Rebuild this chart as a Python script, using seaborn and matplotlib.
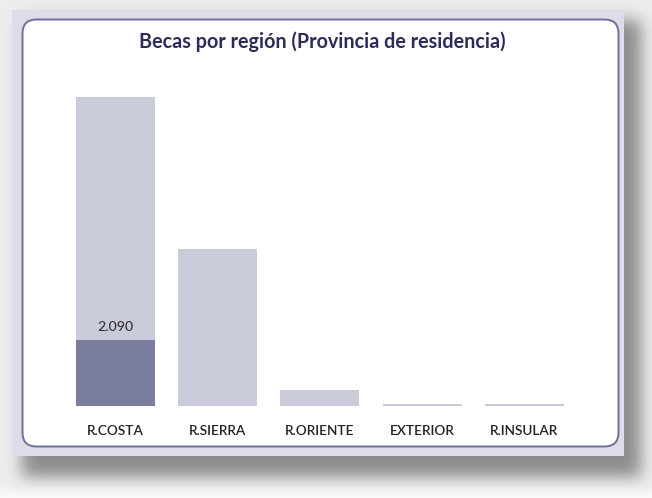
import numpy as np
import pandas as pd
import matplotlib
matplotlib.use("Agg")
import matplotlib.pyplot as plt
from matplotlib.patches import FancyBboxPatch, Rectangle
import seaborn as sns

# ---- data ----
regions = ["R.COSTA", "R.SIERRA", "R.ORIENTE", "EXTERIOR", "R.INSULAR"]
totals = [9840, 5000, 495, 45, 40]
highlight = [2090, 0, 0, 0, 0]
title = "Becas por región (Provincia de residencia)"

LIGHT = "#C9CBDA"
DARK = "#7C7EA0"
TITLE_C = "#2C2B5C"
FRAME_C = "#DDDDEA"
BORDER_C = "#6F6F9C"

sns.set_theme(style="white")
plt.rcParams["font.family"] = ["Lato", "DejaVu Sans"]

W, H = 652, 498
fig = plt.figure(figsize=(W / 100, H / 100), dpi=100)
fig.patch.set_facecolor("white")

# ---- background with blurred drop shadow ----
bg = fig.add_axes([0, 0, 1, 1], zorder=0)
bg.set_axis_off()
yy, xx = np.mgrid[0:H, 0:W]
def blur1d(a, sigma, axis):
    r = int(3 * sigma)
    k = np.exp(-0.5 * (np.arange(-r, r + 1) / sigma) ** 2)
    k /= k.sum()
    return np.apply_along_axis(lambda v: np.convolve(np.pad(v, r, mode="edge"), k, mode="valid"), axis, a)
mask = ((xx >= 22) & (xx <= 640) & (yy >= 20) & (yy <= 476)).astype(float)
mask2 = ((xx >= -5) & (xx <= 655) & (yy >= -5) & (yy <= 492)).astype(float)
sh = blur1d(blur1d(mask, 8, 0), 8, 1)
sh2 = blur1d(blur1d(mask2, 8, 0), 8, 1)
img = 1 - 0.38 * sh - 0.07 * sh2
img = np.clip(img, 0, 1)
bg.imshow(np.dstack([img, img, img]), extent=[0, W, H, 0], aspect="auto", interpolation="bilinear")
bg.set_xlim(0, W)
bg.set_ylim(H, 0)
bg.add_patch(Rectangle((12, 10), 612, 446, facecolor=FRAME_C, edgecolor="none"))
bg.add_patch(FancyBboxPatch((22.5 + 14, 19.5 + 14), 596 - 28, 427 - 28,
                            boxstyle="round,pad=14", facecolor="white",
                            edgecolor=BORDER_C, linewidth=1.4))

# ---- title ----
fig.text(322.5 / W, 1 - 42 / H, title, ha="center", va="center",
         fontsize=14.2, fontweight="bold", color=TITLE_C)

# ---- bars ----
ax = fig.add_axes([64.0 / W, 92.5 / H, 511.5 / W, 308.2 / H], zorder=1)
ax.patch.set_alpha(0)
df = pd.DataFrame({"region": regions, "total": totals, "highlight": highlight})
sns.barplot(data=df, x="region", y="total", color=LIGHT, saturation=1,
            width=0.772, linewidth=0, ax=ax)
sns.barplot(data=df, x="region", y="highlight", color=DARK, saturation=1,
            width=0.772, linewidth=0, ax=ax)
ax.set_xlim(-0.5, len(regions) - 0.5)
ax.set_ylim(0, max(totals))
labels = [f"{v:,.0f}".replace(",", ".") if v else "" for v in highlight]
ax.bar_label(ax.containers[1], labels=labels, padding=5, fontsize=10.2,
             fontweight="medium", color="#333333")
ax.set_xlabel("")
ax.set_ylabel("")
ax.set_yticks([])
ax.tick_params(axis="x", length=0, pad=14, labelsize=9.8, labelcolor="#252423")
for t in ax.get_xticklabels():
    t.set_fontweight("semibold")
for s in ax.spines.values():
    s.set_visible(False)

fig.savefig("out.png", dpi=100)
